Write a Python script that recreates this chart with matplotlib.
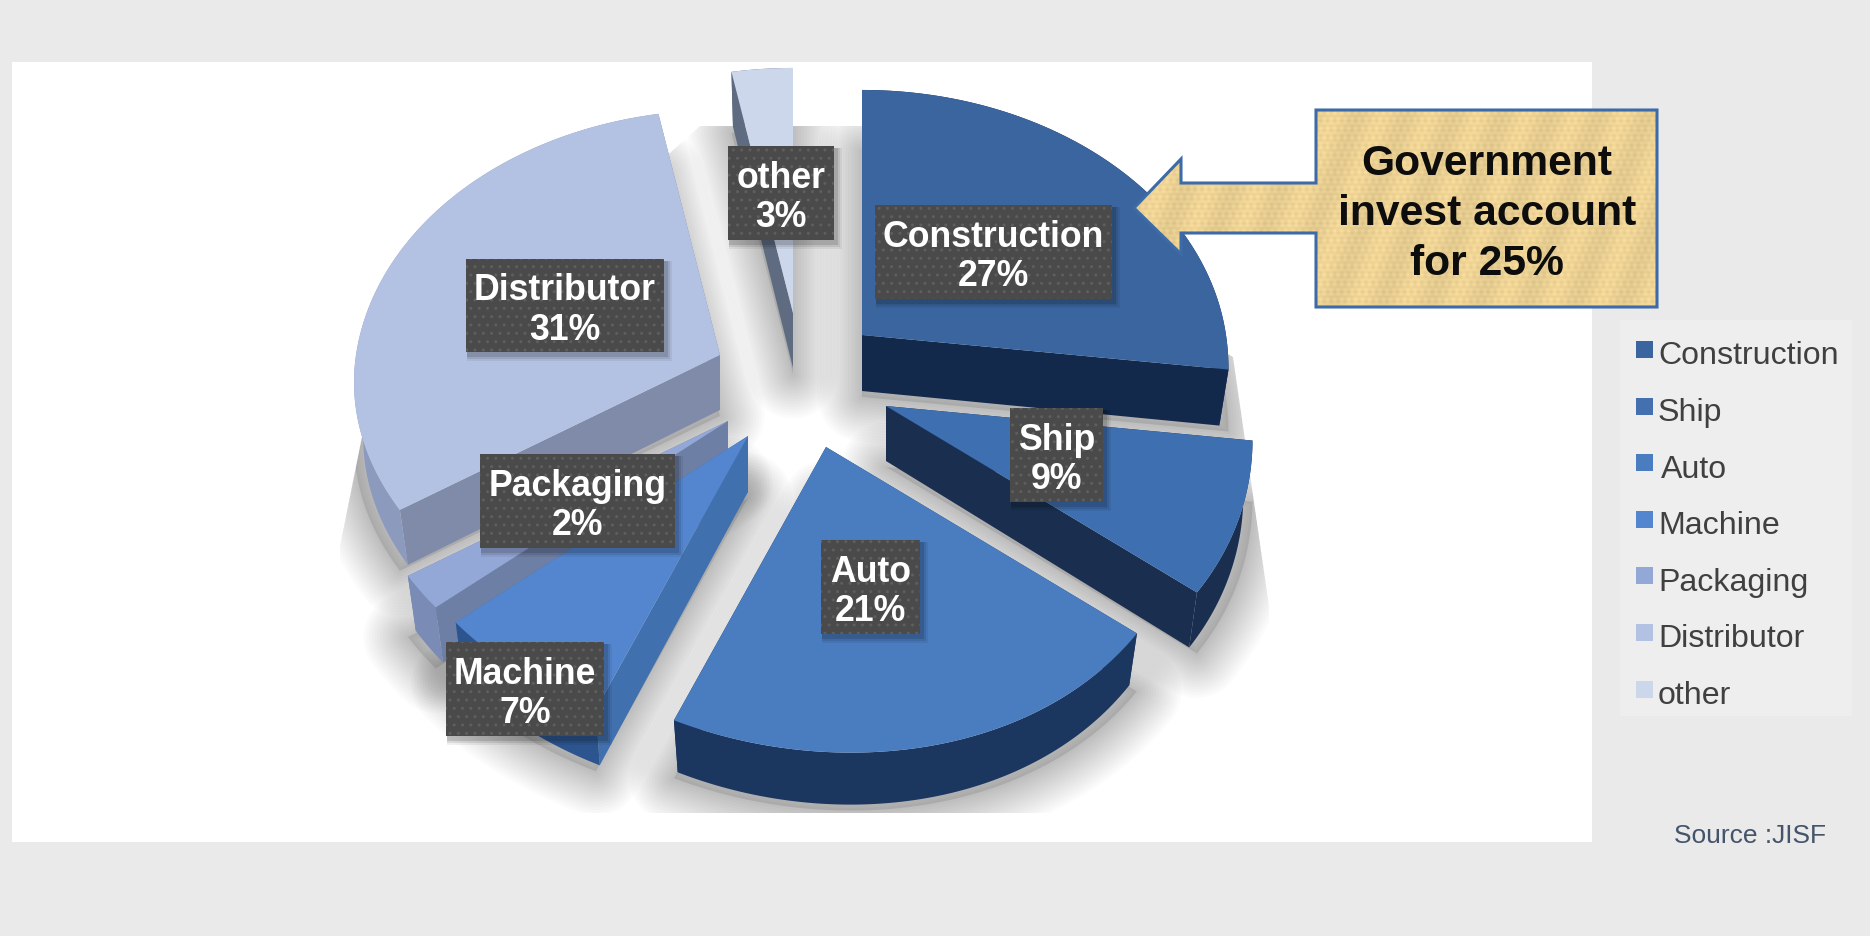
import matplotlib
matplotlib.use('Agg')
import matplotlib.pyplot as plt
from matplotlib.patches import Polygon, Rectangle
import numpy as np

# datos del grafico
sectores = ['Construction', 'Ship', 'Auto', 'Machine', 'Packaging', 'Distributor', 'other']
valores = [27, 9, 21, 7, 2, 31, 3]

# colores: cara superior, cara radial, cara exterior
col_top = ['#3B659E', '#3E6FB0', '#4A7CC0', '#5486D0', '#94A8D8', '#B3C2E2', '#CDD7EC']
col_rad = ['#12294B', '#1A2F50', '#1B365F', '#4170AF', '#6E7FA6', '#7F8BA8', '#5F6B80']
col_arc = ['#12294B', '#1A2F50', '#1B365F', '#2C558F', '#7A8BB5', '#8C9ABD', '#5F6B80']
col_ley = ['#3B659E', '#4470B0', '#4A7CC0', '#5486D0', '#94A8D8', '#B3C2E2', '#CDD7EC']

# centro de cada porcion en pixeles y grosor
centros = [(862, 336), (886, 407), (826, 448), (748, 437), (728, 422), (720, 356), (793, 314)]
grosor = [56, 55, 52, 56, 55, 55, 55]

# perspectiva del disco
RX, RY, K, SESGO = 364, 272, 0.11, 20

# cajas de las etiquetas (x0, y0, x1, y1)
cajas = [(875, 206, 1112, 300), (1010, 409, 1103, 503), (821, 541, 920, 635), (446, 643, 604, 737),
         (480, 455, 675, 549), (466, 260, 664, 353), (728, 147, 834, 241)]

orden = [5, 6, 0, 4, 1, 3, 2]

fig = plt.figure(figsize=(18.7, 9.37), dpi=100, facecolor='#EAEAEA')
ax = fig.add_axes([0, 0, 1, 1])
ax.set_xlim(0, 1870)
ax.set_ylim(937, 0)
ax.axis('off')
fuente = 'Liberation Sans'

# panel blanco
ax.add_patch(Rectangle((12, 63), 1580, 780, fc='white', ec='none', zorder=1))

# angulos a partir de los valores
acum = np.cumsum([0] + valores) * 3.6


def punto(i, ang, escala=1.0):
    ang = np.radians(ang)
    w = 1 + K * np.cos(ang)
    dy = -RY * np.cos(ang) / w
    # la parte delantera se abre un poco hacia la derecha
    dx = RX * np.sin(ang) / w + SESGO * (np.clip(dy, 0, None) / 273) ** 2
    return centros[i][0] + escala * dx, centros[i][1] + dy


clip = Polygon([(700, 127), (862, 127), (1233, 358), (1269, 607), (1269, 814), (340, 814),
                (340, 547), (364, 428)], transform=ax.transData, fc='none', ec='none')
ax.add_patch(clip)

# sombras
for i in range(len(valores)):
    angs = np.linspace(acum[i], acum[i + 1], 60)
    x, y = punto(i, angs)
    pts = np.column_stack([np.r_[centros[i][0], x], np.r_[centros[i][1], y] + grosor[i] + 6])
    for w in range(64, 0, -4):
        s = Polygon(pts, fc='none', ec='black', lw=w, alpha=0.014, joinstyle='round', zorder=2)
        ax.add_patch(s)
        s.set_clip_path(clip)
    s = Polygon(pts, fc='black', ec='none', alpha=0.1, zorder=2)
    ax.add_patch(s)
    s.set_clip_path(clip)

# porciones
for n, i in enumerate(orden):
    z = 3 + n * 0.1
    angs = np.linspace(acum[i], acum[i + 1], 80)
    x, y = punto(i, angs)
    xb, yb = punto(i, angs, 0.975)
    yb = yb + grosor[i]
    cx, cy = centros[i]
    h = grosor[i]
    for k in [0, -1]:
        ax.add_patch(Polygon([(cx, cy), (x[k], y[k]), (xb[k], yb[k]), (cx, cy + h)],
                             fc=col_rad[i], ec='none', zorder=z))
    ax.add_patch(Polygon(np.column_stack([np.r_[x, xb[::-1]], np.r_[y, yb[::-1]]]),
                         fc=col_arc[i], ec='none', zorder=z + 0.01))
    ax.add_patch(Polygon(np.column_stack([np.r_[cx, x], np.r_[cy, y]]),
                         fc=col_top[i], ec='none', zorder=z + 0.02))

# etiquetas
for i in range(len(valores)):
    x0, y0, x1, y1 = cajas[i]
    for d, a in [(7, 0.06), (5, 0.09), (3, 0.12)]:
        ax.add_patch(Rectangle((x0 + 1, y0 + 2), x1 - x0 + d, y1 - y0 + d, fc='black', ec='none', alpha=a, zorder=5.8))
    ax.add_patch(Rectangle((x0, y0), x1 - x0, y1 - y0, fc='#4A4A4A', ec='#5E5E5E', lw=0, hatch='..', zorder=6))
    ax.text((x0 + x1) / 2, (y0 + y1) / 2 + 4, f'{sectores[i]}\n{valores[i]}%', color='white', fontsize=25.7,
            fontweight='bold', family=fuente, ha='center', va='center', linespacing=1.15, zorder=7)

# recuadro con flecha
flecha = [(1316, 111), (1657, 111), (1657, 308), (1316, 308), (1316, 234), (1181, 234), (1181, 255),
          (1134, 209), (1181, 160), (1181, 184), (1316, 184)]
yy, xx = np.mgrid[0:200, 0:530]
textura = 0.86 + 0.025 * np.sin(xx * 0.9) * np.sin(yy * 0.37) + 0.025 * np.sin(xx * 0.13 + yy * 0.05) + 0.015 * np.sin(yy * 1.3)
img = np.dstack([textura * 1.07, textura * 0.95, textura * 0.67]).clip(0, 1)
im = ax.imshow(img, extent=(1130, 1660, 310, 108), aspect='auto', zorder=8)
ax.set_xlim(0, 1870)
ax.set_ylim(937, 0)
borde = Polygon(flecha, fc='none', ec='#3D6BA8', lw=2.2, zorder=9, joinstyle='miter')
ax.add_patch(borde)
im.set_clip_path(borde)
ax.text(1487, 214, 'Government\ninvest account\nfor 25%', fontsize=30.7, fontweight='bold', family=fuente,
        color='#0D0D0D', ha='center', va='center', linespacing=1.31, zorder=10)

# leyenda
ax.add_patch(Rectangle((1620, 321), 232, 396, fc='#EEEEEE', ec='none', zorder=1))
for i, nombre in enumerate(sectores):
    ax.add_patch(Rectangle((1636, 342 + i * 56.6), 16.5, 17, fc=col_ley[i], ec='none', zorder=2))
    ax.text(1658 + (3 if nombre == 'Auto' else 0), 356.5 + i * 56.6, nombre, fontsize=23.1, family=fuente, color='#404040',
            va='center', ha='left', zorder=3)

ax.text(1750, 836.5, 'Source :JISF', fontsize=19, family=fuente, color='#44546A', ha='center', va='center')

fig.savefig('out.png', dpi=100, facecolor=fig.get_facecolor())
